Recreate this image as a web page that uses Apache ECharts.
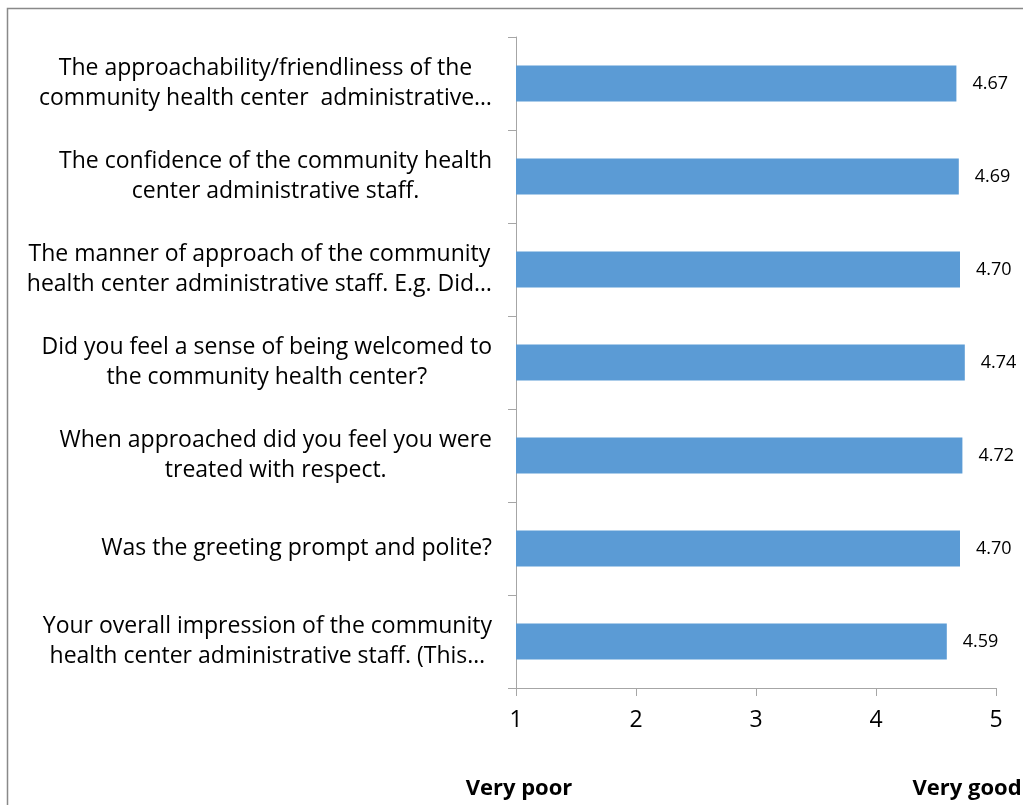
<!DOCTYPE html>
<html>
<head>
<meta charset="utf-8">
<script src="https://cdn.jsdelivr.net/npm/echarts@6/dist/echarts.min.js"></script>
<style>
  html, body { margin: 0; padding: 0; background: #fff; }
  #chart { width: 1023px; height: 805px; }
</style>
</head>
<body>
<div id="chart"></div>
<script>
// Survey items, listed top to bottom
const categories = [
  'The approachability/friendliness of the\ncommunity health center  administrative\u2026',
  'The confidence of the community health\ncenter administrative staff.',
  'The manner of approach of the community\nhealth center administrative staff. E.g. Did\u2026',
  'Did you feel a sense of being welcomed to\nthe community health center?',
  'When approached did you feel you were\ntreated with respect.',
  'Was the greeting prompt and polite?',
  'Your overall impression of the community\nhealth center administrative staff. (This\u2026'
];
// Mean rating per item (1 = very poor, 5 = very good)
const scores = [4.67, 4.69, 4.70, 4.74, 4.72, 4.70, 4.59];
// Scale end captions
const scaleLow = 'Very poor';
const scaleHigh = 'Very good';

const FONT = '"Open Sans", sans-serif';
const AXIS_GREY = '#a6a6a6';
const chart = echarts.init(document.getElementById('chart'));

chart.setOption({
  animation: false,
  backgroundColor: '#ffffff',
  grid: { left: 516, right: 27, top: 37, bottom: 117, containLabel: false },
  xAxis: {
    type: 'value',
    min: 1,
    max: 5,
    interval: 1,
    axisLine: { show: true, lineStyle: { color: AXIS_GREY, width: 1 } },
    axisTick: { show: true, length: 8, lineStyle: { color: AXIS_GREY } },
    splitLine: { show: false },
    axisLabel: { color: '#000', fontSize: 23, fontFamily: FONT, margin: 21 }
  },
  yAxis: {
    type: 'category',
    data: categories,
    inverse: true,
    axisLine: { show: true, lineStyle: { color: AXIS_GREY, width: 1 } },
    axisTick: { show: true, length: 8, lineStyle: { color: AXIS_GREY } },
    axisLabel: {
      // block sits right-aligned against the axis; each line is centred inside it
      align: 'right',
      margin: 24,
      color: '#000',
      fontSize: 23,
      fontFamily: FONT,
      lineHeight: 30,
      formatter: v => v.split('\n').map(line => '{c|' + line + '}').join('\n'),
      rich: {
        c: { align: 'center', color: '#000', fontSize: 23, fontFamily: FONT, lineHeight: 30 }
      }
    }
  },
  series: [{
    type: 'bar',
    data: scores,
    barWidth: 36,
    itemStyle: { color: '#5B9BD5' },
    label: {
      show: true,
      position: 'right',
      distance: 16,
      color: '#000',
      fontSize: 18,
      fontFamily: FONT,
      formatter: p => p.value.toFixed(2)
    }
  }],
  graphic: [
    {
      type: 'rect',
      shape: { x: 7.5, y: 8.5, width: 1100, height: 900 },
      style: { fill: 'none', stroke: '#898989', lineWidth: 1.5 },
      silent: true
    },
    {
      type: 'text',
      x: 519, y: 789,
      style: { text: scaleLow, fontSize: 22, fontWeight: 'bold', fontFamily: FONT,
               fill: '#000', textAlign: 'center', textVerticalAlign: 'middle' }
    },
    {
      type: 'text',
      x: 967, y: 789,
      style: { text: scaleHigh, fontSize: 22, fontWeight: 'bold', fontFamily: FONT,
               fill: '#000', textAlign: 'center', textVerticalAlign: 'middle' }
    }
  ]
});
</script>
</body>
</html>
